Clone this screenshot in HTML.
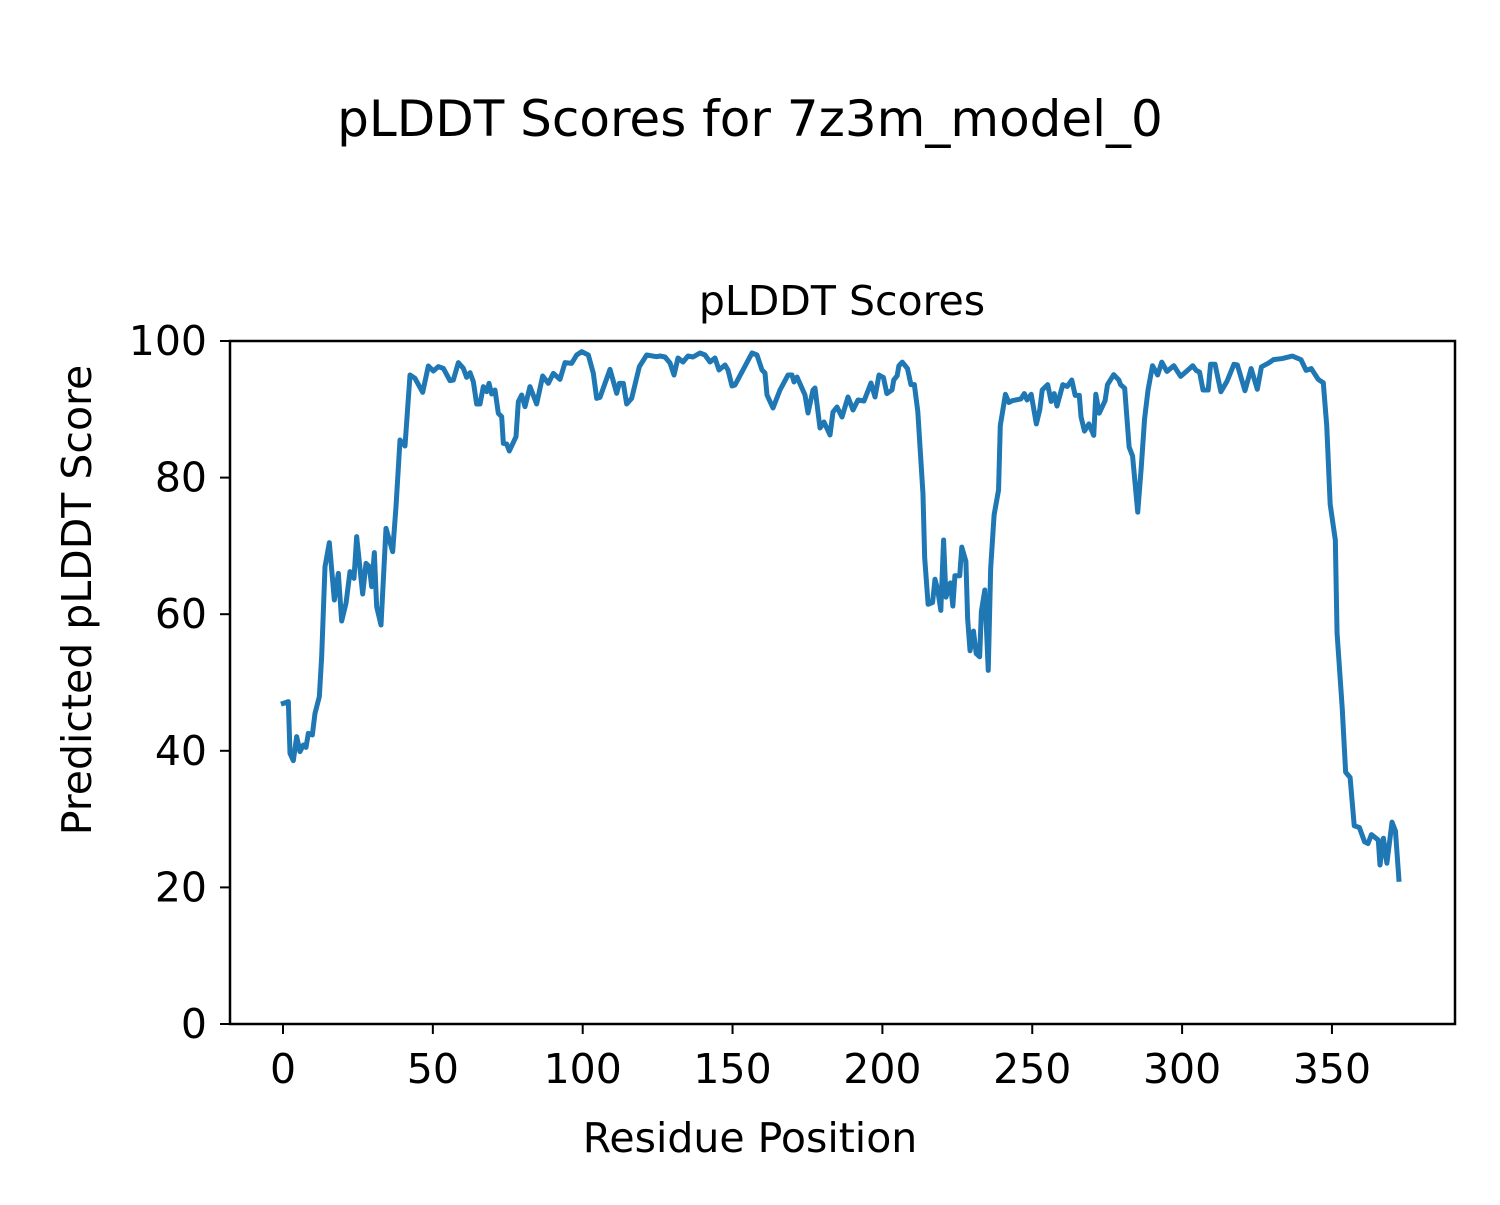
<!DOCTYPE html>
<html><head><meta charset="utf-8"><style>
body{margin:0;background:#fff}
svg text{font-family:"DejaVu Sans","Liberation Sans",sans-serif;fill:#000}
</style></head><body>
<svg id="s" width="1500" height="1200" xmlns="http://www.w3.org/2000/svg">
<rect width="1500" height="1200" fill="#fff"/>
<text x="750" y="136" font-size="50" text-anchor="middle">pLDDT Scores for 7z3m_model_0</text>
<text x="842" y="315" font-size="41" text-anchor="middle">pLDDT Scores</text>
<text x="750" y="1152" font-size="41" text-anchor="middle">Residue Position</text>
<text transform="translate(91,600) rotate(-90)" font-size="41" text-anchor="middle">Predicted pLDDT Score</text>
<g id="ticks"></g>
<polyline id="ln" fill="none" stroke="#1f77b4" stroke-width="5" stroke-linejoin="round" stroke-linecap="square"/>
<rect x="230" y="341" width="1225" height="683" fill="none" stroke="#000" stroke-width="2.5"/>
</svg>
<script>
var g=document.getElementById('ticks'),h='';
for(var v=0;v<=350;v+=50){var x=283+v*2.997;h+='<line x1="'+x+'" y1="1024" x2="'+x+'" y2="1034" stroke="#000" stroke-width="2"/><text x="'+x+'" y="1083" font-size="41" text-anchor="middle">'+v+'</text>';}
for(var v=0;v<=100;v+=20){var y=1024-v*6.83;h+='<line x1="220" y1="'+y+'" x2="230" y2="'+y+'" stroke="#000" stroke-width="2"/><text x="207" y="'+(y+14)+'" font-size="41" text-anchor="end">'+v+'</text>';}
g.innerHTML=h;
var z1=[40,1090,55,1085,60,1240,70,1262,80,1190,90,1235,100,1215,108,1222,115,1180,127,1185,135,1120,148,1070,155,950,165,680,178,608,193,780,205,700,215,843,228,790,240,695,252,715,260,590,278,762,288,670,298,680,305,740,313,638,320,800,333,855,348,565,368,635,378,500,390,300,405,318,420,105,435,115,458,157,475,78,490,93,505,80,520,85,540,122,550,120,565,68,580,85,590,112,600,98,610,125,620,192,630,192,640,140,650,155,657,130,665,162,675,150,685,220,695,230,700,310,710,312,718,333,738,290,745,185,755,165,765,200,780,140,800,192,818,108,835,130,850,100,870,118,885,68,905,70,920,45,935,35,955,45,970,100,980,175,990,172,1020,88,1040,160,1048,130,1060,130,1070,192,1085,175,1108,80,1130,45,1160,50];
var mid=[660,356,665,357,670,363,674,375,678,358,683,362,688,356,693,357,700,353,705,355,710,362,715,358,719,370,725,365,728,370,732,386,735,385,752,353,757,355,762,370,765,373,767,395,773,408,780,390,788,375,792,375,794,382,797,377,805,395,808,413,813,390,815,388,820,428,824,422,830,435,833,412,837,407,842,417,848,397,853,410,858,400,864,401,871,383,875,397,879,375];
var z2=[0,100,10,105,20,150,35,140,40,112,50,100,55,72,65,62,80,80,90,125,100,125,110,200,125,430,130,610,140,740,153,735,160,670,168,700,177,757,185,560,192,720,205,680,212,745,218,660,232,660,238,580,250,620,255,780,262,870,272,815,280,878,290,887,295,760,305,700,315,925,322,640,332,490,345,420,350,240,365,152,375,175,385,170,410,165,420,150,428,168,440,152,455,235,465,195,472,140,488,125,498,172,507,150,515,185,532,125,545,130,558,112,568,155,580,155,585,215,595,255,608,235,622,267,628,152,638,205,655,170,662,125,680,97,695,112,700,125,712,135,725,300,735,325,750,482,760,360,770,220,780,140,793,72,808,98,820,62,835,88,855,72,875,102,895,85,910,72,920,85,930,90,940,140,955,140,962,68,975,68,992,145,1010,115,1030,68,1040,70,1062,142,1080,80,1098,138,1110,75,1130,65,1145,55,1170,52,1200,45,1225,55,1240,85,1255,80,1275,110,1290,120,1300,240,1310,460,1325,560,1330,820,1345,1030,1355,1210,1368,1225,1380,1360,1395,1365,1410,1405,1420,1410,1430,1385,1450,1400,1455,1470,1465,1395,1475,1465,1490,1350,1500,1375,1510,1510];
var p=[];
for(var i=0;i<z1.length;i+=2)p.push((270+z1[i]/3)+','+(340+z1[i+1]/3));
for(var i=0;i<mid.length;i+=2)p.push(mid[i]+','+mid[i+1]);
for(var i=0;i<z2.length;i+=2)p.push((880+z2[i]/2.91)+','+(340+z2[i+1]/2.8));
document.getElementById('ln').setAttribute('points',p.join(' '));
</script>
</body></html>
